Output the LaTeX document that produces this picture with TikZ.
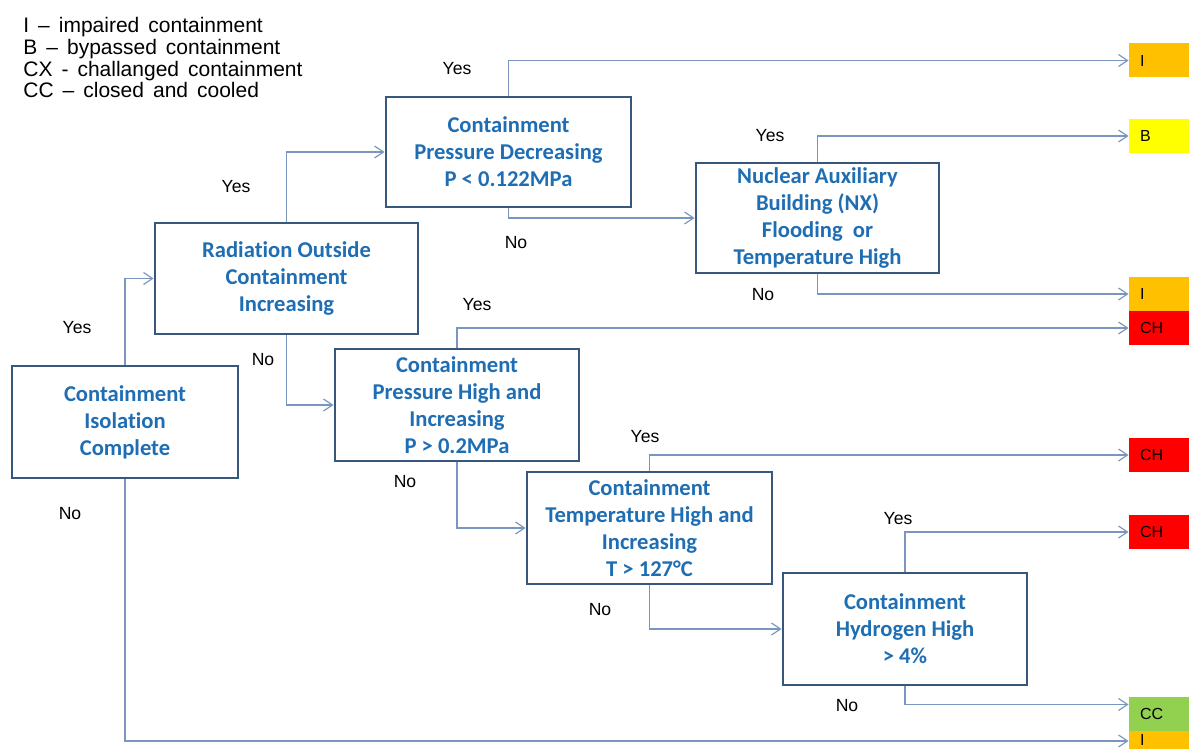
\documentclass[tikz,border=0pt]{standalone}
\usepackage{fontspec}
\setmainfont{Liberation Sans}
\newfontfamily\boxfont[Ligatures=NoCommon]{Carlito}
\usetikzlibrary{arrows.meta}
\definecolor{linkblue}{RGB}{122,150,190}
\definecolor{frameblue}{RGB}{56,87,125}
\definecolor{textblue}{RGB}{31,110,180}
\definecolor{amber}{RGB}{255,192,0}
\definecolor{lemon}{RGB}{255,255,0}
\definecolor{alarm}{RGB}{255,0,0}
\definecolor{leaf}{RGB}{146,208,80}
% legend lettering with wide word spaces
\newcommand{\legendtype}{\fontsize{10.5}{10.85}\selectfont\spaceskip=4.5pt\relax}
\tikzset{
  decision/.style={draw=frameblue, line width=1.4pt, fill=white, align=center,
    font=\boxfont\bfseries\fontsize{11.3}{13.45}\selectfont, text=textblue, inner sep=0pt},
  outcome/.style={minimum width=35pt, minimum height=17pt, text width=24pt,
    inner xsep=5.5pt, inner ysep=0pt, align=left, font=\fontsize{8}{9}\selectfont},
  link/.style={draw=linkblue, line width=0.6pt, -{Straight Barb[length=4.5pt,width=6pt]}},
  answer/.style={font=\fontsize{8.8}{10}\selectfont, inner sep=0pt},
}
\begin{document}
\begin{tikzpicture}[x=0.5pt,y=-0.5pt]
\useasboundingbox (0,0) rectangle (1189,749);

% legend
\node[anchor=north west, inner sep=0pt, align=left, font=\legendtype] (legend) at (23,17)
  {I – impaired containment\\B – bypassed containment\\CX - challanged containment\\CC – closed and cooled};

% outcome boxes (the last one runs past the lower edge)
\node[outcome, fill=amber] (o8) at (1164,740) {I};
\node[outcome, fill=amber] (o1) at (1164,60.5) {I};
\node[outcome, fill=lemon] (o2) at (1164,136) {B};
\node[outcome, fill=amber] (o3) at (1164,294) {I};
\node[outcome, fill=alarm] (o4) at (1164,328) {CH};
\node[outcome, fill=alarm] (o5) at (1164,455) {CH};
\node[outcome, fill=alarm] (o6) at (1164,532) {CH};
\node[outcome, fill=leaf]  (o7) at (1164,713.5) {CC};

% decision boxes
\node[decision, minimum width=113pt, minimum height=56pt] (isol) at (125,422) {Containment\\Isolation\\Complete};
\node[decision, minimum width=131.5pt, minimum height=55.5pt] (rad) at (286.5,278.5) {Radiation Outside\\Containment\\Increasing};
\node[decision, minimum width=122.5pt, minimum height=55pt] (pdec) at (508.5,152) {Containment\\Pressure Decreasing\\P < 0.122MPa};
\node[decision, minimum width=121.5pt, minimum height=55pt] (nx) at (817.5,218) {Nuclear Auxiliary\\Building (NX)\\Flooding~~or\\Temperature High};
\node[decision, minimum width=122pt, minimum height=56pt] (phigh) at (457,405) {Containment\\Pressure High and\\Increasing\\P > 0.2MPa};
\node[decision, minimum width=122.5pt, minimum height=56pt] (thigh) at (649.5,528) {Containment\\Temperature High and\\Increasing\\T > 127°C};
\node[decision, minimum width=122pt, minimum height=56pt] (hyd) at (905,629) {Containment\\Hydrogen High\\> 4\%};

% connectors
\draw[link] (isol.north) |- (rad.west);
\draw[link] (isol.south) |- ([yshift=-0.5pt]o8.west);
\draw[link] (rad.north) |- (pdec.west);
\draw[link] (rad.south) |- (phigh.west);
\draw[link] (pdec.north) |- (o1.west);
\draw[link] (pdec.south) |- (nx.west);
\draw[link] (nx.north) |- (o2.west);
\draw[link] (nx.south) |- (o3.west);
\draw[link] (phigh.north) |- (o4.west);
\draw[link] (phigh.south) |- (thigh.west);
\draw[link] (thigh.north) |- (o5.west);
\draw[link] (thigh.south) |- (hyd.west);
\draw[link] (hyd.north) |- (o6.west);
\draw[link] (hyd.south) |- ([yshift=4.5pt]o7.west);

% answers
\node[answer] (y1) at (77,328) {Yes};
\node[answer] (n1) at (70,514) {No};
\node[answer] (y2) at (236,187) {Yes};
\node[answer] (n2) at (263,360) {No};
\node[answer] (y3) at (457,69) {Yes};
\node[answer] (n3) at (516,243) {No};
\node[answer] (y4) at (770,136) {Yes};
\node[answer] (n4) at (763,295) {No};
\node[answer] (y5) at (477,305) {Yes};
\node[answer] (n5) at (405,482) {No};
\node[answer] (y6) at (645,437) {Yes};
\node[answer] (n6) at (600,610) {No};
\node[answer] (y7) at (898,519) {Yes};
\node[answer] (n7) at (847,706) {No};
\end{tikzpicture}
\end{document}
